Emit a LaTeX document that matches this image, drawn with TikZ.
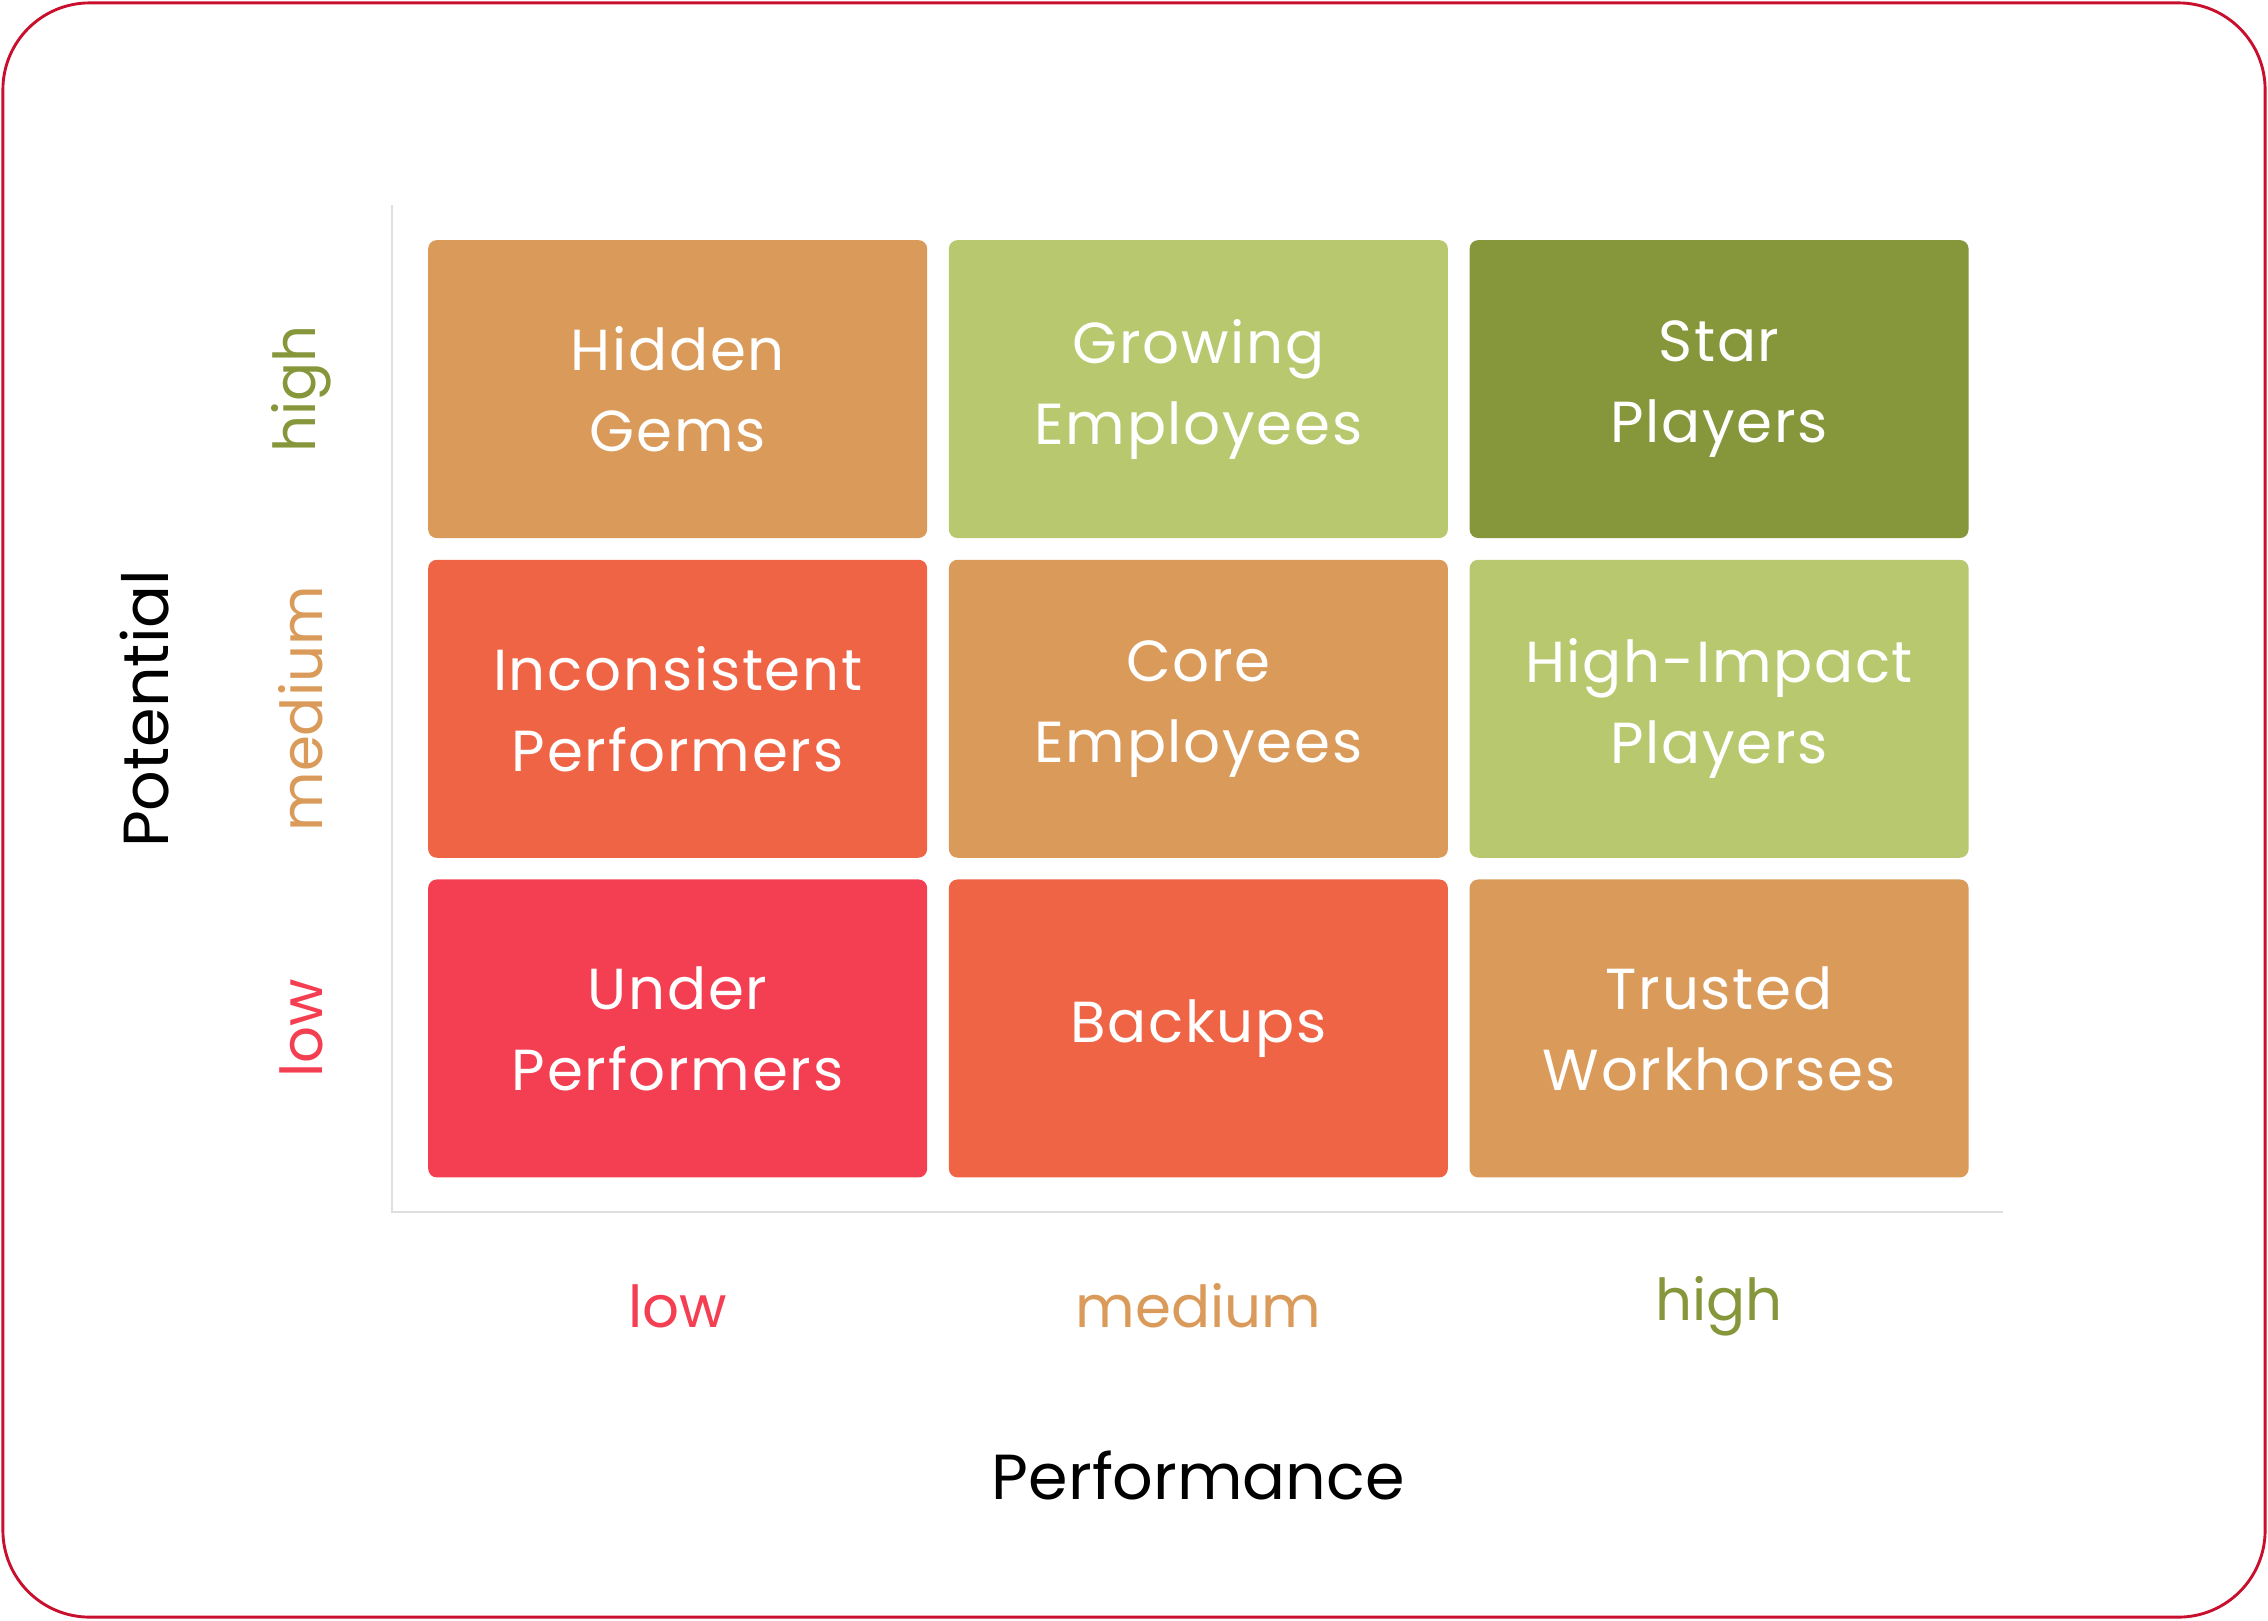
\documentclass[tikz,border=0pt]{standalone}
\usepackage{fontspec}
\setmainfont{Poppins}
\definecolor{tan}{HTML}{DA9A5A}
\definecolor{lgreen}{HTML}{B8C86E}
\definecolor{olive}{HTML}{86963A}
\definecolor{ored}{HTML}{F06446}
\definecolor{pred}{HTML}{F43F52}
\definecolor{frame}{HTML}{C8102E}
\begin{document}
\begin{tikzpicture}[x=1pt,y=-1pt,
  cell/.style={draw=none,rounded corners=6pt,minimum width=345pt,minimum height=206pt,text=white,align=center,font=\fontsize{40}{56}\selectfont\addfontfeature{LetterSpace=3}},
  lvl/.style={font=\fontsize{40}{48}\selectfont},
  axl/.style={font=\fontsize{44}{52}\selectfont}]
\useasboundingbox (0,0) rectangle (1568,1120);
\draw[frame,line width=2pt,rounded corners=60pt] (2,2) rectangle (1566,1118);
\draw[gray!25,line width=1pt] (271,142) coordinate (ya) -- (271,838) coordinate (o) -- (1385,838) coordinate (xa);
\node[cell,fill=tan]   (c11) at (468.5,269) {Hidden\\Gems};
\node[cell,fill=lgreen](c12) at (828.5,269) {Growing\\Employees};
\node[cell,fill=olive] (c13) at (1188.5,269) {Star\\Players};
\node[cell,fill=ored]  (c21) at (468.5,490) {Inconsistent\\Performers};
\node[cell,fill=tan]   (c22) at (828.5,490) {Core\\Employees};
\node[cell,fill=lgreen](c23) at (1188.5,490) {High-Impact\\Players};
\node[cell,fill=pred]  (c31) at (468.5,711) {Under\\Performers};
\node[cell,fill=ored]  (c32) at (828.5,711) {Backups};
\node[cell,fill=tan]   (c33) at (1188.5,711) {Trusted\\Workhorses};
\node[lvl,text=pred]  (xl) at (468.5,903) {low};
\node[lvl,text=tan]   (xm) at (828.5,903) {medium};
\node[lvl,text=olive] (xh) at (1188.5,903) {high};
\node[lvl,text=olive,rotate=90] (yh) at (208,269) {high};
\node[lvl,text=tan,rotate=90]   (ym) at (208,490) {medium};
\node[lvl,text=pred,rotate=90]  (yl) at (208,711) {low};
\node[axl,rotate=90] (pot) at (100,490) {Potential};
\node[axl] (perf) at (828.5,1020) {Performance};
\end{tikzpicture}
\end{document}
